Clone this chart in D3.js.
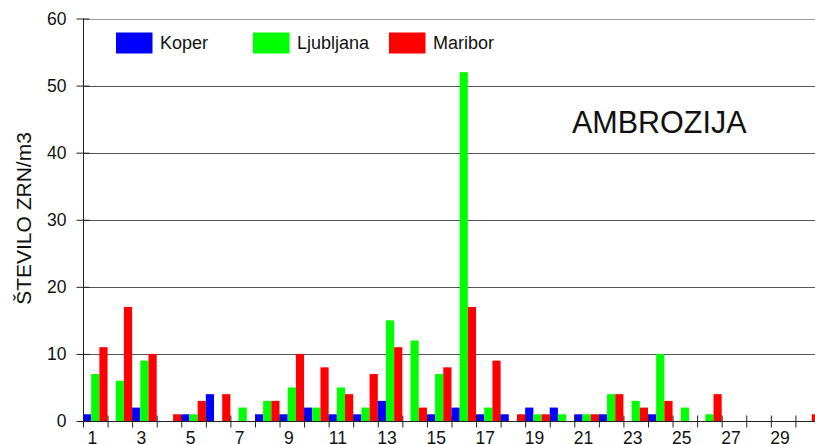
<!DOCTYPE html>
<html>
<head>
<meta charset="utf-8">
<script src="https://cdn.jsdelivr.net/npm/d3@7"></script>
<style>
  html, body { margin: 0; padding: 0; background: #fff; }
  svg { display: block; font-family: "Liberation Sans", Arial, sans-serif; }
</style>
</head>
<body>
<svg id="chart" width="815" height="444"></svg>
<script>
// Daily ragweed pollen counts (grains per m3) for three stations
const days = d3.range(1, 32);
const seriesNames = ["Koper", "Ljubljana", "Maribor"];
const seriesColors = ["#0000ff", "#00ff00", "#ff0000"];
const koper     = [1,0,2,0,1,4,0,1,1,2,1,1,3,0,1,2,1,1,2,2,1,1,0,1,0,0,0,0,0,0,0];
const ljubljana = [7,6,9,0,1,0,2,3,5,2,5,2,15,12,7,52,2,0,1,1,1,4,3,10,2,1,0,0,0,0,0];
const maribor   = [11,17,10,1,3,4,0,3,10,8,4,7,11,2,8,17,9,1,1,0,1,4,2,3,0,4,0,0,0,1,0];
const yTicks = [0, 10, 20, 30, 40, 50, 60];
const xLabelDays = [1,3,5,7,9,11,13,15,17,19,21,23,25,27,29];
const title = "AMBROZIJA";
const yTitle = "ŠTEVILO ZRN/m3";

const values = [koper, ljubljana, maribor];
const svg = d3.select("#chart");

const plotLeft = 83, plotTop = 18.5, plotBottom = 421, step = 24.565;
const plotRight = plotLeft + days.length * step;

const y = d3.scaleLinear().domain([0, 60]).range([plotBottom, plotTop]);
const x = d3.scaleBand().domain(days).range([plotLeft, plotRight]).padding(0);
const xs = d3.scaleBand().domain(seriesNames).range([0, x.bandwidth()]).padding(0);
const xEdge = d3.scaleLinear().domain([0, days.length]).range([plotLeft, plotRight]);

// horizontal gridlines
svg.append("g")
  .selectAll("line")
  .data(yTicks.filter(t => t > 0))
  .join("line")
  .attr("x1", plotLeft).attr("x2", 815)
  .attr("y1", d => Math.round(y(d)) + 0.5).attr("y2", d => Math.round(y(d)) + 0.5)
  .attr("stroke", d => d === 60 ? "#999" : "#555")
  .attr("stroke-width", 1);

// bars
const rows = days.map((d, i) => ({ day: d, vals: seriesNames.map((s, k) => ({ s, k, v: values[k][i] })) }));
svg.append("g")
  .selectAll("g")
  .data(rows)
  .join("g")
  .attr("transform", d => `translate(${x(d.day)},0)`)
  .selectAll("rect")
  .data(d => d.vals.filter(e => e.v > 0))
  .join("rect")
  .attr("x", e => xs(e.s))
  .attr("width", xs.bandwidth())
  .attr("y", e => y(e.v))
  .attr("height", e => y(0) - y(e.v))
  .attr("fill", e => seriesColors[e.k]);

// y axis
const yAxis = svg.append("g")
  .attr("transform", `translate(${plotLeft + 0.5},0)`)
  .call(d3.axisLeft(y).tickValues(yTicks).tickSize(7).tickPadding(10));
yAxis.select(".domain").attr("stroke", "#222").attr("d", `M0,${y(60)}V${y(0)}`);
yAxis.selectAll(".tick line").attr("stroke", "#222").attr("x1", 6);
yAxis.selectAll(".tick text")
  .attr("font-size", 17.5)
  .attr("fill", "#111")
  .attr("font-family", "Liberation Sans, Arial, sans-serif");

// x axis boundary ticks
const xTicks = svg.append("g")
  .attr("transform", `translate(0,${plotBottom + 0.5})`)
  .call(d3.axisBottom(xEdge).tickValues(d3.range(0, days.length + 1)).tickFormat("").tickSize(6).tickSizeOuter(0));
xTicks.select(".domain").attr("stroke", "#222").attr("d", `M${plotLeft},0H815`);
xTicks.selectAll(".tick line").attr("stroke", "#222").attr("y1", -6);

// x axis day labels
const xLab = svg.append("g")
  .attr("transform", `translate(0,${plotBottom})`)
  .call(d3.axisBottom(x).tickValues(xLabelDays).tickSize(0));
xLab.select(".domain").remove();
xLab.selectAll(".tick text")
  .attr("font-size", 17.5)
  .attr("fill", "#111")
  .attr("font-family", "Liberation Sans, Arial, sans-serif")
  .attr("y", 22.5).attr("dy", 0).attr("dx", -3);

// legend
const legend = svg.append("g");
const legendX = [116, 253, 389];
seriesNames.forEach((s, k) => {
  legend.append("rect")
    .attr("x", legendX[k]).attr("y", 32.5)
    .attr("width", 36.5).attr("height", 21)
    .attr("fill", seriesColors[k]);
  legend.append("text")
    .attr("x", legendX[k] + 44).attr("y", 48.5)
    .attr("font-size", 18)
    .attr("fill", "#111")
    .text(s);
});

// title inside plot
svg.append("text")
  .attr("x", 572).attr("y", 132.5)
  .attr("font-size", 30.5)
  .attr("fill", "#111")
  .text(title);

// y axis title
svg.append("text")
  .attr("transform", `translate(31,218.5) rotate(-90)`)
  .attr("text-anchor", "middle")
  .attr("font-size", 21)
  .attr("fill", "#111")
  .text(yTitle);
</script>
</body>
</html>
